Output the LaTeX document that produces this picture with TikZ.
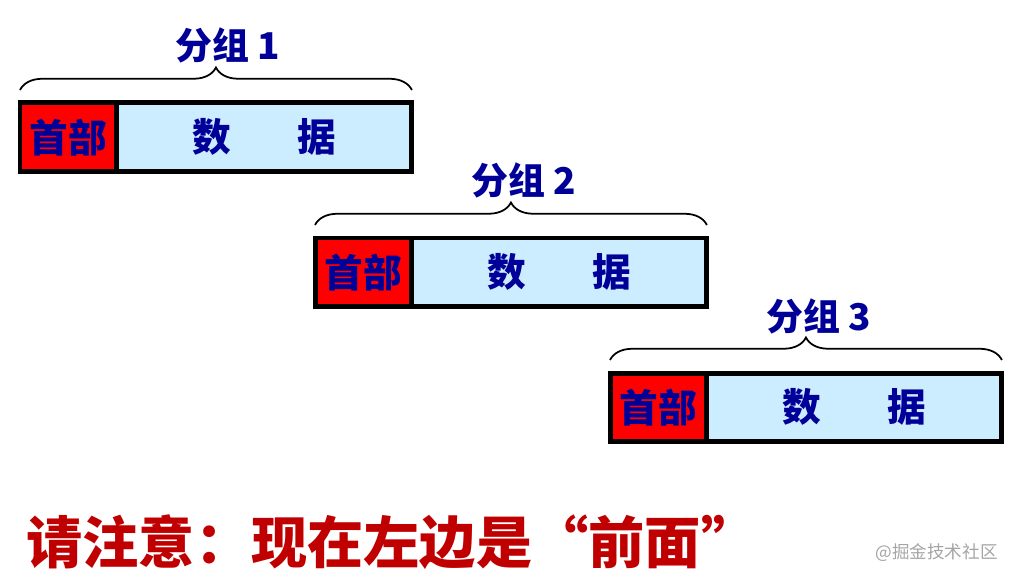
\documentclass[tikz,border=0pt]{standalone}
\usepackage{fontspec}
\newfontfamily\cjk{Noto Sans CJK SC}
\definecolor{pkblue}{RGB}{0,0,153}
\definecolor{pkred}{RGB}{255,0,0}
\definecolor{pkfill}{RGB}{204,236,255}
\definecolor{pknote}{RGB}{192,0,0}
\definecolor{pkgray}{RGB}{165,165,165}
\usetikzlibrary{positioning,decorations.pathreplacing}

\begin{document}
\begin{tikzpicture}[x=0.02cm,y=-0.02cm,
  pkhead/.style={draw,line width=0.1cm,fill=pkred,outer sep=0pt,inner sep=0pt,
    minimum width=1.94cm,minimum height=1.37cm,text=pkblue,
    font=\cjk\bfseries\fontsize{22pt}{25pt}\selectfont},
  pkdata/.style={pkhead,fill=pkfill,minimum width=5.9cm},
  pkbrace/.style={decorate,decoration={brace,amplitude=0.45cm},line width=1pt},
  pklabel/.style={text=pkblue,inner sep=0pt,font=\cjk\bfseries\fontsize{21pt}{24pt}\selectfont}
]
  \useasboundingbox (0,0) rectangle (1015,581);

  \node[pkhead,anchor=north west] (hdrA) at (20,103) {首部};
  \node[pkdata,right=0pt of hdrA] (datA) {数\hspace{1.7em}据};
  \draw[pkbrace] ([yshift=0.26cm]hdrA.north west) -- ([yshift=0.26cm]datA.north east);
  \node[pklabel] (grpA) at (228,45) {分组 1};

  \node[pkhead,anchor=north west] (hdrB) at (315,238) {首部};
  \node[pkdata,right=0pt of hdrB] (datB) {数\hspace{1.7em}据};
  \draw[pkbrace] ([yshift=0.26cm]hdrB.north west) -- ([yshift=0.26cm]datB.north east);
  \node[pklabel] (grpB) at (524,180) {分组 2};

  \node[pkhead,anchor=north west] (hdrC) at (610,373) {首部};
  \node[pkdata,right=0pt of hdrC] (datC) {数\hspace{1.7em}据};
  \draw[pkbrace] ([yshift=0.26cm]hdrC.north west) -- ([yshift=0.26cm]datC.north east);
  \node[pklabel] (grpC) at (819,316) {分组 3};

  \node[anchor=west,inner sep=0pt,text=pknote,font=\cjk\bfseries\fontsize{32pt}{35pt}\selectfont]
    (note) at (26,542) {请注意：现在左边是“前面”};
  \node[anchor=east,inner sep=0pt,text=pkgray,font=\cjk\fontsize{10pt}{12pt}\selectfont]
    (mark) at (998,553) {@掘金技术社区};
\end{tikzpicture}
\end{document}
